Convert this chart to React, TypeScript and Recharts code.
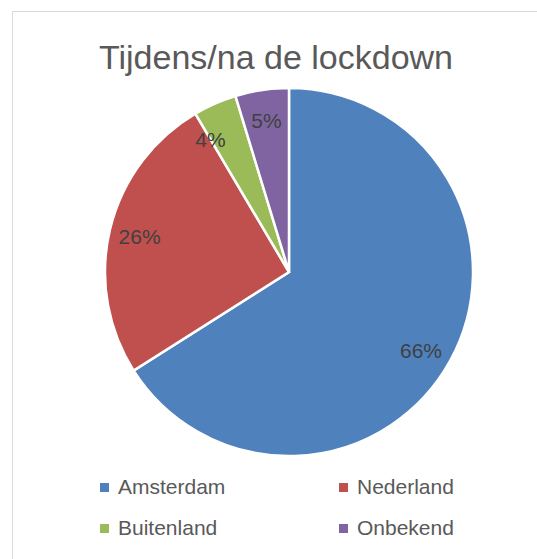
import React from "react";
import { PieChart, Pie, Cell } from "recharts";

const categories = ["Amsterdam", "Nederland", "Buitenland", "Onbekend"];
const values = [66, 25.5, 3.8, 4.7];
const colors = ["#4F81BD", "#C0504D", "#9BBB59", "#8064A2"];
const title = "Tijdens/na de lockdown";

const data = categories.map((name, i) => ({ name, value: values[i] }));

const RAD = Math.PI / 180;
const font = "'Liberation Sans', Arial, sans-serif";

const renderLabel = (props: any) => {
  const { cx, cy, midAngle, outerRadius, percent, index } = props;
  const r = outerRadius * 0.835;
  // Excel best-fit nudges the narrow Buitenland label toward its neighbour
  const angle = midAngle + (index === 2 ? 7 : index === 0 ? -2 : 0);
  const x = cx + r * Math.cos(-angle * RAD);
  const y = cy + r * Math.sin(-angle * RAD);
  return (
    <text
      x={x}
      y={y}
      fill="#404040"
      fontSize={21}
      fontFamily={font}
      textAnchor="middle"
      dominantBaseline="central"
    >
      {`${Math.round(percent * 100)}%`}
    </text>
  );
};

export default function App() {
  const legendPos = [
    { x: 100, y: 487 },
    { x: 339, y: 487 },
    { x: 100, y: 528 },
    { x: 339, y: 528 },
  ];
  return (
    <div
      style={{
        position: "absolute",
        left: 0,
        top: 0,
        width: 537,
        height: 559,
        overflow: "hidden",
        background: "#ffffff",
      }}
    >
      <div
        style={{
          position: "absolute",
          left: 12,
          top: 11,
          width: 700,
          height: 700,
          border: "1px solid #d9d9d9",
          boxSizing: "border-box",
        }}
      />
      <div
        style={{
          position: "absolute",
          left: 0,
          top: 37,
          width: 552,
          textAlign: "center",
          fontFamily: font,
          fontSize: 34,
          color: "#595959",
          lineHeight: "40px",
          whiteSpace: "nowrap",
        }}
      >
        {title}
      </div>
      <div style={{ position: "absolute", left: 0, top: 0 }}>
        <PieChart width={537} height={559} margin={{ top: 0, right: 0, bottom: 0, left: 0 }}>
          <Pie
            data={data}
            dataKey="value"
            nameKey="name"
            cx={289}
            cy={272}
            outerRadius={184}
            startAngle={90}
            endAngle={-270}
            stroke="#ffffff"
            strokeWidth={2.5}
            label={renderLabel}
            labelLine={false}
            isAnimationActive={false}
          >
            {data.map((d, i) => (
              <Cell key={d.name} fill={colors[i]} />
            ))}
          </Pie>
        </PieChart>
      </div>
      {categories.map((c, i) => (
        <div
          key={c}
          style={{
            position: "absolute",
            left: legendPos[i].x,
            top: legendPos[i].y - 14,
            height: 28,
            display: "flex",
            alignItems: "center",
            fontFamily: font,
            fontSize: 21,
            color: "#595959",
            whiteSpace: "nowrap",
          }}
        >
          <span
            style={{
              display: "inline-block",
              width: 9,
              height: 9,
              background: colors[i],
              marginRight: 9,
            }}
          />
          {c}
        </div>
      ))}
    </div>
  );
}
